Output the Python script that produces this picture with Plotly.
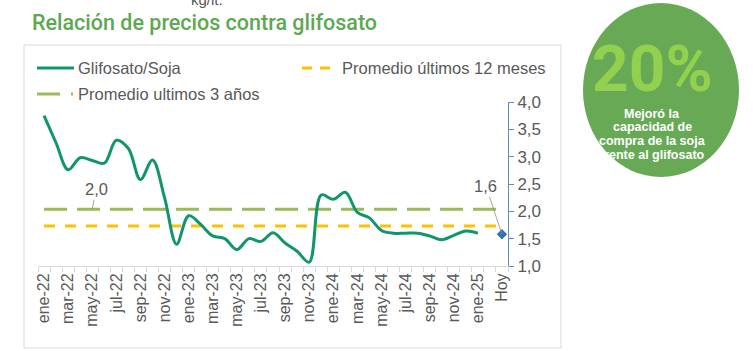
import plotly.graph_objects as go

# ---------------- data ----------------
months = ["ene-22", "feb-22", "mar-22", "abr-22", "may-22", "jun-22", "jul-22", "ago-22",
          "sep-22", "oct-22", "nov-22", "dic-22", "ene-23", "feb-23", "mar-23", "abr-23",
          "may-23", "jun-23", "jul-23", "ago-23", "sep-23", "oct-23", "nov-23", "dic-23",
          "ene-24", "feb-24", "mar-24", "abr-24", "may-24", "jun-24", "jul-24", "ago-24",
          "sep-24", "oct-24", "nov-24", "dic-24", "ene-25", "feb-25", "Hoy"]
ratio = [3.75, 3.25, 2.76, 2.98, 2.93, 2.88, 3.30, 3.15, 2.58, 2.94, 2.25, 1.40,
         1.92, 1.76, 1.55, 1.50, 1.30, 1.50, 1.45, 1.61, 1.42, 1.27, 1.07, 2.30,
         2.22, 2.35, 1.98, 1.88, 1.65, 1.60, 1.60, 1.60, 1.55, 1.48, 1.56, 1.64, 1.60]
ratio_months = months[:len(ratio)]
hoy_label = "Hoy"
hoy_value = 1.58
avg_12m = 1.73
avg_3y = 2.04
label_3y_month = "may-22"
y_ticks = [1.0, 1.5, 2.0, 2.5, 3.0, 3.5, 4.0]

TEAL = "#10956c"
YELLOW = "#ffc000"
GREEN = "#9bbb59"
TXT = "#595959"
FONT = "Liberation Sans, Arial, sans-serif"

# plot-area geometry in pixels
L, T, W, H = 38, 102, 470, 164
def px(x):
    return (x - L) / W
def py(y):
    return (T + H - y) / H

def fmt(v):
    return f"{v:.1f}".replace(".", ",")

fig = go.Figure()
fig.add_trace(go.Scatter(x=months, y=[avg_3y] * len(months), mode="lines",
                         line=dict(color=GREEN, width=3, dash="23px,10px"),
                         name="Promedio ultimos 3 años", hoverinfo="skip"))
fig.add_trace(go.Scatter(x=months, y=[avg_12m] * len(months), mode="lines",
                         line=dict(color=YELLOW, width=3, dash="11px,10px"),
                         name="Promedio últimos 12 meses", hoverinfo="skip"))
fig.add_trace(go.Scatter(x=ratio_months, y=ratio, mode="lines",
                         line=dict(color=TEAL, width=3, shape="spline", smoothing=1.0),
                         name="Glifosato/Soja"))
fig.add_trace(go.Scatter(x=[hoy_label], y=[hoy_value], mode="markers",
                         marker=dict(symbol="diamond", size=8, color="#2e75b6"),
                         name="Hoy", showlegend=False))

annotations = []
shapes = []

# data labels
annotations.append(dict(x=label_3y_month, y=avg_3y, xref="x", yref="y", text=fmt(avg_3y),
                        showarrow=True, arrowhead=0, arrowwidth=0.8, arrowcolor="#8c8c8c",
                        ax=4, ay=-20, font=dict(family=FONT, size=16.5, color=TXT)))
annotations.append(dict(x=hoy_label, y=hoy_value, xref="x", yref="y", text=fmt(hoy_value),
                        showarrow=True, arrowhead=0, arrowwidth=0.8, arrowcolor="#8c8c8c",
                        ax=-16, ay=-48, font=dict(family=FONT, size=16.5, color=TXT)))

# title & cut-off unit text
annotations.append(dict(x=px(30), y=py(22), xref="paper", yref="paper", xanchor="left",
                        yanchor="middle", showarrow=False,
                        text="Relación de precios contra glifosato",
                        font=dict(family="Roboto, Inter, sans-serif", size=21.5, color="#5ea853",
                                  weight=500)))
annotations.append(dict(x=px(207), y=py(-1), xref="paper", yref="paper", xanchor="center",
                        yanchor="middle", showarrow=False, text="kg/lt.",
                        font=dict(family=FONT, size=15, color=TXT)))

# chart frame
shapes.append(dict(type="rect", xref="paper", yref="paper", x0=px(24), x1=px(561),
                   y0=py(45), y1=py(348), line=dict(color="#d9d9d9", width=1),
                   fillcolor="rgba(0,0,0,0)", layer="below"))

# custom legend
leg_font = dict(family=FONT, size=16.5, color=TXT)
shapes.append(dict(type="line", xref="paper", yref="paper", x0=px(37), x1=px(74),
                   y0=py(68), y1=py(68), line=dict(color=TEAL, width=3)))
annotations.append(dict(x=px(76), y=py(68), xref="paper", yref="paper", xanchor="left",
                        yanchor="middle", showarrow=False, text="Glifosato/Soja", font=leg_font))
shapes.append(dict(type="line", xref="paper", yref="paper", x0=px(302), x1=px(330),
                   y0=py(68), y1=py(68), line=dict(color=YELLOW, width=3, dash="10px,8px")))
annotations.append(dict(x=px(340), y=py(68), xref="paper", yref="paper", xanchor="left",
                        yanchor="middle", showarrow=False, text="Promedio últimos 12 meses",
                        font=leg_font))
shapes.append(dict(type="line", xref="paper", yref="paper", x0=px(37), x1=px(60),
                   y0=py(94), y1=py(94), line=dict(color=GREEN, width=3)))
shapes.append(dict(type="line", xref="paper", yref="paper", x0=px(71), x1=px(73),
                   y0=py(94), y1=py(94), line=dict(color=GREEN, width=3)))
annotations.append(dict(x=px(76), y=py(94), xref="paper", yref="paper", xanchor="left",
                        yanchor="middle", showarrow=False, text="Promedio ultimos 3 años",
                        font=leg_font))

# green badge
shapes.append(dict(type="circle", xref="paper", yref="paper", x0=px(583), x1=px(739),
                   y0=py(3), y1=py(177), line=dict(width=0), fillcolor="#67a955"))
annotations.append(dict(x=px(652), y=py(69), xref="paper", yref="paper", xanchor="center",
                        yanchor="middle", showarrow=False, text="<b>20%</b>",
                        font=dict(family="Roboto, sans-serif", size=64, color="#92d050")))
badge_lines = ["Mejoró la", "capacidad de", "compra de la soja", "frente al glifosato"]
for k, line in enumerate(badge_lines):
    annotations.append(dict(x=px(652), y=py(113.5 + 13.8 * k), xref="paper", yref="paper",
                            xanchor="center", yanchor="middle", showarrow=False,
                            text=f"<b>{line}</b>",
                            font=dict(family=FONT, size=12.5, color="white")))

fig.update_layout(
    width=753, height=351, autosize=False,
    margin=dict(l=L, r=753 - L - W, t=T, b=351 - T - H, pad=0),
    paper_bgcolor="white", plot_bgcolor="white",
    showlegend=False, separators=",.",
    annotations=annotations, shapes=shapes,
    xaxis=dict(type="category", categoryorder="array", categoryarray=months,
               range=[-0.5, len(months) - 0.5], tickmode="array", tickvals=months,
               ticktext=[m if i % 2 == 0 else "" for i, m in enumerate(months)],
               tickson="boundaries", ticks="outside", ticklen=5, tickcolor="#d9d9d9",
               showline=True, linecolor="#d9d9d9", linewidth=1, showgrid=False,
               zeroline=False, tickangle=-90, automargin=False,
               tickfont=dict(family=FONT, size=16, color=TXT)),
    yaxis=dict(side="right", range=[1, 4], tickmode="array", tickvals=y_ticks,
               tickformat=".1f", ticks="outside", ticklen=5, tickcolor="#5b8ec6",
               showline=True, linecolor="#5b8ec6", linewidth=1, showgrid=False,
               zeroline=False, automargin=False,
               tickfont=dict(family=FONT, size=17, color=TXT)),
)

fig.write_html("out.html")
